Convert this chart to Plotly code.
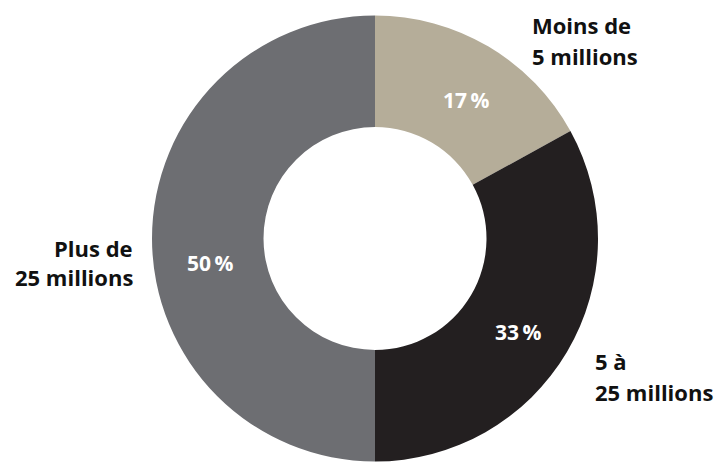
import plotly.graph_objects as go

# Répartition par tranche
categories = ["Moins de 5 millions", "5 à 25 millions", "Plus de 25 millions"]
shares = [17, 33, 50]
colors = ["#b5ad99", "#231f20", "#6d6e72"]

W, H = 722, 464
FONT = "Open Sans"

fig = go.Figure(
    go.Pie(
        labels=categories,
        values=shares,
        sort=False,
        direction="clockwise",
        rotation=0,
        hole=0.5,
        marker=dict(colors=colors, line=dict(width=0)),
        textinfo="none",
        hoverinfo="label+percent",
        showlegend=False,
        domain=dict(x=[(375 - 223) / W, (375 + 223) / W],
                    y=[(H - 461.5) / H, (H - 15.5) / H]),
    )
)

def px(x, y):
    return x / W, 1 - y / H

annotations = []

# percentage labels inside the ring
pct_pos = [(466, 100), (518, 332), (210, 263)]
for val, (x, y) in zip(shares, pct_pos):
    ax, ay = px(x, y)
    annotations.append(dict(
        x=ax, y=ay, xref="paper", yref="paper",
        text=f"{val}\u2009%", showarrow=False,
        xanchor="center", yanchor="middle",
        font=dict(family=FONT, size=21, color="white", weight="bold"),
    ))

# category labels outside the ring, one line each
label_lines = [
    (["Moins de", "5 millions"], 530, [25, 56], "left"),
    (["5 à", "25 millions"], 593, [361, 392], "left"),
    (["Plus de", "25 millions"], 135, [248, 277], "right"),
]
for lines, x, ys, anchor in label_lines:
    for line, y in zip(lines, ys):
        ax, ay = px(x, y)
        annotations.append(dict(
            x=ax, y=ay, xref="paper", yref="paper",
            text=line, showarrow=False,
            xanchor=anchor, yanchor="middle",
            font=dict(family=FONT, size=22, color="#111111", weight="bold"),
        ))

fig.update_layout(
    width=W, height=H,
    margin=dict(l=0, r=0, t=0, b=0),
    paper_bgcolor="white",
    plot_bgcolor="white",
    annotations=annotations,
)

fig.write_html("out.html")
